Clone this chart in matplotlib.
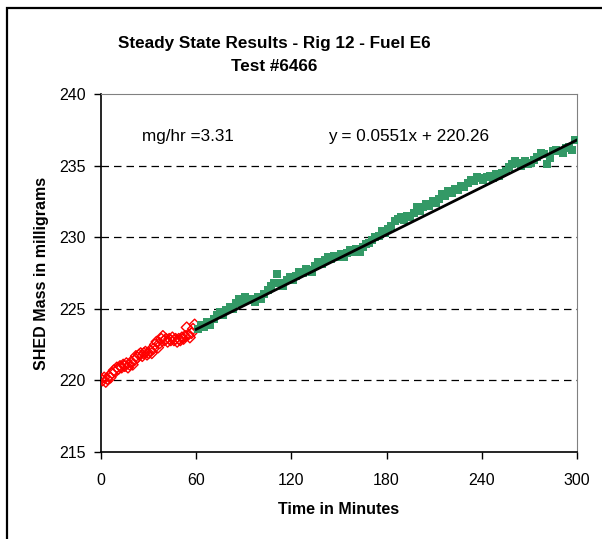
import numpy as np
import matplotlib.pyplot as plt
from matplotlib.patches import Rectangle

# readings before the steady-state window (open red diamonds), one per minute
red_t = list(range(0, 60))
red_mass = [220.1, 220.0, 220.2, 219.9, 220.1, 220.3, 220.2, 220.5, 220.7, 220.6,
            220.9, 220.8, 221.0, 220.9, 221.1, 221.0, 221.2, 220.9, 221.1, 221.3,
            221.1, 221.4, 221.7, 221.6, 221.8, 221.9, 221.7, 221.9, 222.0, 221.8,
            221.9, 222.1, 221.9, 222.2, 222.5, 222.7, 222.3, 222.6, 222.9, 223.1,
            222.8, 222.9, 222.7, 222.9, 222.8, 223.0, 222.8, 222.9, 222.7, 222.9,
            222.8, 223.0, 222.9, 223.1, 223.7, 223.2, 223.0, 223.3, 223.6, 223.9]

# steady-state readings (green squares), every 2 minutes
green_t = list(range(61, 300, 2))
green_mass = [223.6, 223.9, 223.7, 224.1, 223.9, 224.3, 224.6, 224.8, 224.6, 224.9,
              225.1, 225.0, 225.4, 225.7, 225.5, 225.8, 225.6, 225.7, 225.5, 225.8,
              225.7, 226.0, 226.3, 226.6, 226.8, 227.4, 226.8, 226.6, 227.0, 227.2,
              227.0, 227.3, 227.6, 227.5, 227.8, 227.7, 227.6, 228.0, 228.3, 228.1,
              228.4, 228.6, 228.5, 228.7, 228.6, 228.8, 228.6, 228.9, 229.1, 229.0,
              229.2, 229.0, 229.3, 229.5, 229.6, 229.8, 230.0, 230.1, 230.4, 230.3,
              230.6, 230.8, 231.1, 231.3, 231.4, 231.2, 231.5, 231.4, 231.7, 232.1,
              231.8, 232.1, 232.3, 232.2, 232.5, 232.4, 232.7, 233.0, 232.9, 233.2,
              233.1, 233.4, 233.3, 233.6, 233.5, 233.8, 234.0, 233.9, 234.2, 234.1,
              234.0, 234.2, 234.3, 234.1, 234.4, 234.3, 234.5, 234.6, 234.9, 235.1,
              235.3, 235.2, 235.0, 235.3, 235.1, 235.2, 235.4, 235.6, 235.9, 235.8,
              235.1, 235.5, 236.0, 236.1, 236.0, 235.9, 236.2, 236.3, 236.1, 236.8]

slope, intercept = 0.0551, 220.26
fit_t = [60, 300]
rate_label = "mg/hr =3.31"
eq_label = "y = 0.0551x + 220.26"

plt.rcParams['font.family'] = ['Liberation Sans', 'DejaVu Sans']

fig = plt.figure(figsize=(6.02, 5.39), dpi=100)
ax = fig.add_axes([101/602, 1 - 452/539, 476/602, 358/539])

# outer chart border (cropped at right and bottom)
fig.patches.append(Rectangle((7/602, -0.1), 1.2, 1 - 8/539 + 0.1, transform=fig.transFigure,
                             fill=False, edgecolor='black', linewidth=1.6))

for v in [220, 225, 230, 235]:
    ax.axhline(v, color='black', linewidth=0.9, dashes=(6, 4), zorder=1)

ax.scatter(red_t, red_mass, marker='D', s=30, facecolors='none', edgecolors='#ff0000',
           linewidths=1.0, zorder=3)
ax.scatter(green_t, green_mass, marker='s', s=34, color='#339966', linewidths=0, zorder=3)
ax.plot(fit_t, [slope * t + intercept for t in fit_t], color='black', linewidth=2.0, zorder=4)

ax.text(26, 237.0, rate_label, fontsize=12.3, va='center', ha='left')
ax.text(143, 237.0, eq_label, fontsize=12.3, va='center', ha='left')

ax.set_xlim(0, 300)
ax.set_ylim(215, 240)
ax.set_xticks([0, 60, 120, 180, 240, 300])
ax.set_yticks([215, 220, 225, 230, 235, 240])
ax.tick_params(direction='out', length=5, width=1, labelsize=11.5, pad=6)
ax.tick_params(axis='x', pad=10)

for s in ['top', 'right']:
    ax.spines[s].set_color('#808080')
for s in ['left', 'bottom']:
    ax.spines[s].set_color('black')
    ax.spines[s].set_linewidth(1.2)

ax.set_xlabel("Time in Minutes", fontsize=11.5, fontweight='bold', labelpad=10)
ax.set_ylabel("SHED Mass in milligrams", fontsize=11.5, fontweight='bold', labelpad=7)
fig.text(274/602, 1 - 55/539, "Steady State Results - Rig 12 - Fuel E6\nTest #6466",
         ha='center', va='center', fontsize=12.3, fontweight='bold', linespacing=1.6)

fig.savefig("out.png", dpi=100)
